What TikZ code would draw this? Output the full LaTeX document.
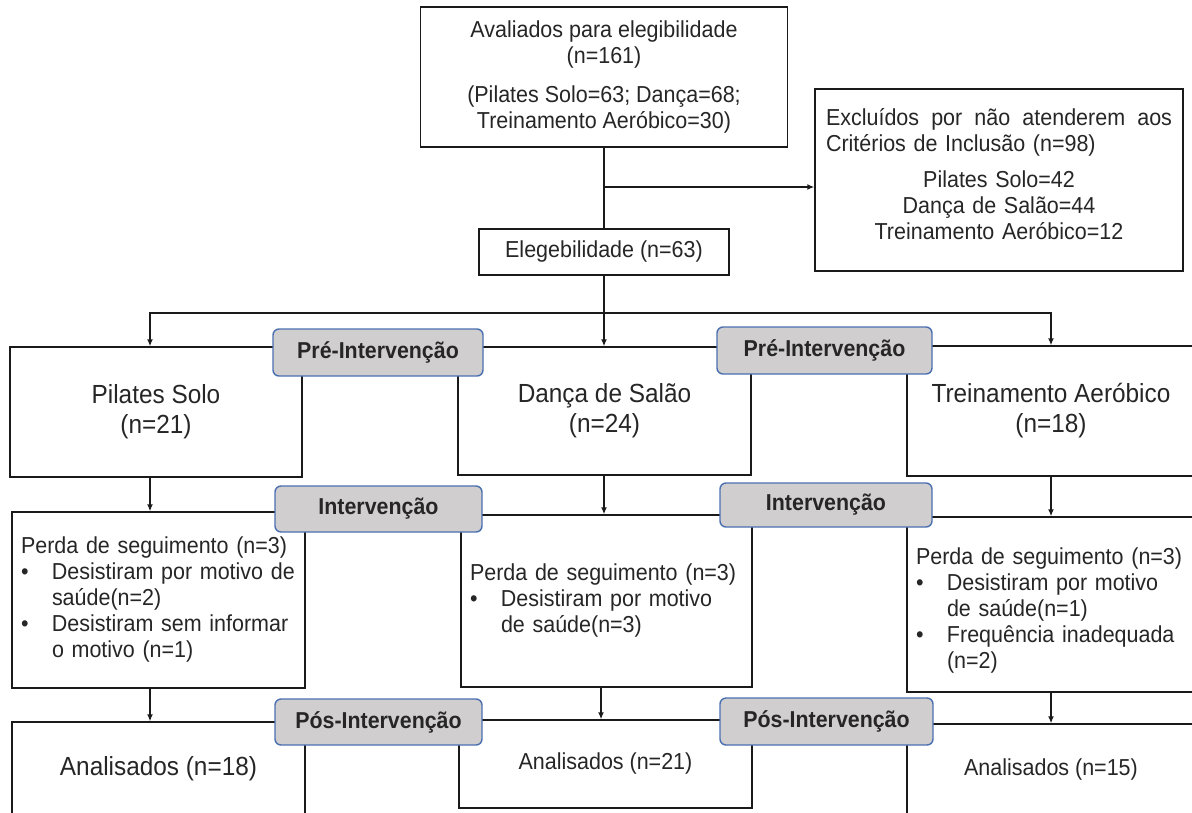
\documentclass[tikz,border=0pt]{standalone}
\usepackage{fontspec}
\setmainfont{Liberation Sans}[FakeStretch=0.93]
\usetikzlibrary{arrows.meta}
\setlength{\parindent}{0pt}
\definecolor{linecol}{HTML}{1A1A1A}
\definecolor{txt}{HTML}{262626}
\definecolor{labfill}{HTML}{D0CECE}
\definecolor{labborder}{HTML}{4A70B0}
\newcommand\fnorm{\fontsize{23.1pt}{26pt}\selectfont}
\newcommand\fbig{\fontsize{26.2pt}{30pt}\selectfont}
\newcommand\flab{\fontsize{23pt}{26pt}\selectfont\bfseries}
\newcommand\bitem[1]{\par\noindent\hangindent=31pt\hangafter=1\makebox[31pt][l]{\hspace{0pt}•}#1\par}
\tikzset{
  box/.style={draw=linecol, line width=1.4pt, fill=white, inner sep=0pt, align=center, font=\fnorm, text=txt},
  lab/.style={draw=labborder, fill=labfill, rounded corners=6pt, line width=1.4pt, inner sep=0pt, font=\flab, text=txt},
  conn/.style={draw=linecol, line width=1.4pt},
  arr/.style={conn, -{Latex[length=7pt,width=6pt]}}
}
\begin{document}
\begin{tikzpicture}[x=1pt,y=-1pt]
\useasboundingbox (0,0) rectangle (1192,812);
\clip (0,0) rectangle (1192,812);
\fill[white] (0,0) rectangle (1192,812);

% top
\node[box, minimum width=367pt, minimum height=140pt] (top) at (604,77)
  {Avaliados para elegibilidade\\(n=161)\\[13pt](Pilates Solo=63; Dança=68;\\Treinamento Aeróbico=30)};
\node[box, minimum width=368pt, minimum height=182pt, text width=346pt, align=left] (excl) at (999,180)
  {\hbox to 346pt{Excluídos\hfill por\hfill não\hfill atenderem\hfill aos}\newline
   Critérios de Inclusão (n=98)\par\vspace{10pt}{\centering Pilates Solo=42\\Dança de Salão=44\\Treinamento Aeróbico=12\par}\vspace{12pt}};
\node[box, minimum width=250pt, minimum height=46pt] (eleg) at (604,252) {Elegebilidade (n=63)};

% groups
\node[box, font=\fbig, minimum width=292pt, minimum height=130pt] (g1) at (156,412) {Pilates Solo\\(n=21)};
\node[box, font=\fbig, minimum width=293pt, minimum height=128pt] (g2) at (604.5,411) {Dança de Salão\\(n=24)};
\node[box, font=\fbig, minimum width=288pt, minimum height=130pt] (g3) at (1051,411) {Treinamento Aeróbico\\(n=18)};

% losses
\node[box, minimum width=293pt, minimum height=176pt, text width=275pt, align=left] (p1) at (158.5,600)
  {Perda de seguimento (n=3)\bitem{Desistiram por motivo de\newline saúde(n=2)}\bitem{Desistiram sem informar\newline o motivo (n=1)}};
\node[box, minimum width=291pt, minimum height=172pt, text width=273pt, align=left] (p2) at (606.5,601)
  {Perda de seguimento (n=3)\bitem{Desistiram por motivo\newline de saúde(n=3)}};
\node[box, minimum width=288pt, minimum height=175pt, text width=270pt, align=left] (p3) at (1051,604.5)
  {\rule{0pt}{29pt}Perda de seguimento (n=3)\bitem{Desistiram por motivo\newline de saúde(n=1)}\bitem{Frequência inadequada\newline (n=2)}};

% analysed
\node[box, font=\fbig, minimum width=293pt, minimum height=93pt] (a1) at (158.5,768.5) {Analisados (n=18)};
\node[box, minimum width=293pt, minimum height=88pt] (a2) at (605.5,764) {Analisados (n=21)};
\node[box, minimum width=288pt, minimum height=91pt] (a3) at (1051,769.5) {Analisados (n=15)};

% stage labels
\node[lab, minimum width=210pt, minimum height=47pt] (pre1) at (378,352.5) {Pré-Intervenção};
\node[lab, minimum width=215pt, minimum height=47pt] (pre2) at (824.5,350.5) {Pré-Intervenção};
\node[lab, minimum width=207pt, minimum height=46pt] (int1) at (378.5,509) {Intervenção};
\node[lab, minimum width=212pt, minimum height=44pt] (int2) at (826,505) {Intervenção};
\node[lab, minimum width=207pt, minimum height=46pt] (pos1) at (378.5,722) {Pós-Intervenção};
\node[lab, minimum width=213pt, minimum height=47pt] (pos2) at (826.5,721.5) {Pós-Intervenção};

% connectors
\coordinate (br) at (604,187);
\coordinate (split) at (604,313);
\draw[conn] (top.south) -- (top.south |- eleg.north);
\draw[arr] (br) -- (br -| excl.west);
\draw[conn] (eleg.south) -- (split);
\draw[arr] (split) -| ([xshift=-6pt]g1.north);
\draw[arr] (split) -| (g3.north);
\draw[arr] (split) -- (split |- g2.north);

\draw[arr] ([xshift=-6pt]g1.south) -- ([xshift=-6pt]g1.south |- p1.north);
\draw[arr] (split |- g2.south) -- (split |- p2.north);
\draw[arr] (g3.south) -- (g3.south |- p3.north);

\draw[arr] ([xshift=-6pt]g1.south |- p1.south) -- ([xshift=-6pt]g1.south |- a1.north);
\draw[arr] ([xshift=-3pt]split |- p2.south) -- ([xshift=-3pt]split |- a2.north);
\draw[arr] (g3.south |- p3.south) -- (g3.south |- a3.north);
\end{tikzpicture}
\end{document}
